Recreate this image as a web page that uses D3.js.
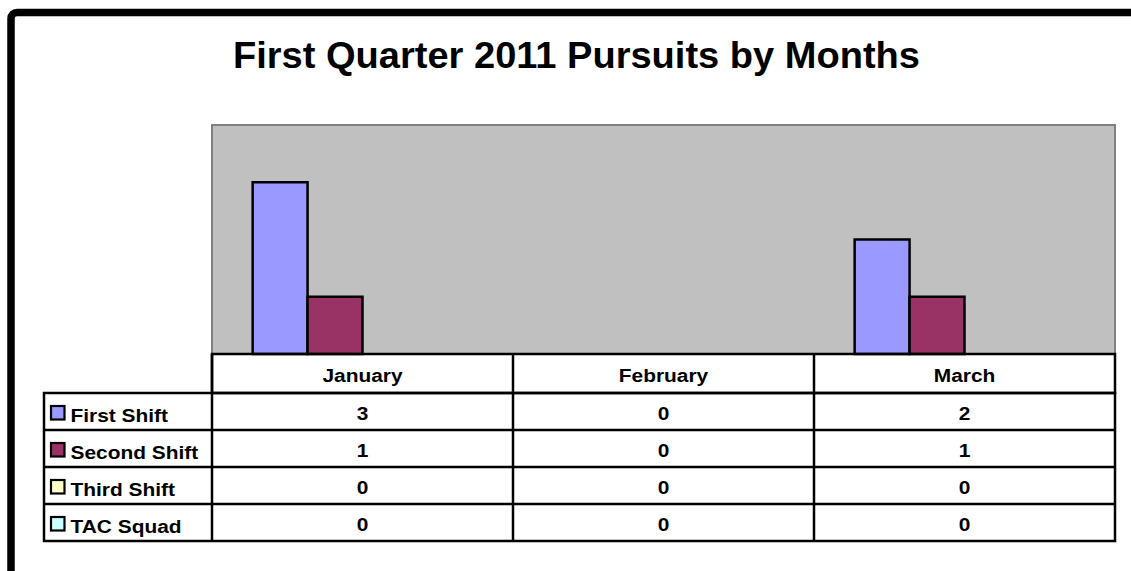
<!DOCTYPE html>
<html>
<head>
<meta charset="utf-8">
<script src="https://cdn.jsdelivr.net/npm/d3@7"></script>
<style>
  body { margin: 0; background: #fff; }
  svg { display: block; font-family: Arial, "Liberation Sans", sans-serif; font-weight: bold; }
</style>
</head>
<body>
<div id="chart"></div>
<script>
// Chart data
const months = ["January", "February", "March"];
const seriesNames = ["First Shift", "Second Shift", "Third Shift", "TAC Squad"];
const firstShift = [3, 0, 2];
const secondShift = [1, 0, 1];
const thirdShift = [0, 0, 0];
const tacSquad = [0, 0, 0];
const seriesColors = ["#9999FF", "#993366", "#FFFFCC", "#CCFFFF"];
const yTicks = [0, 1, 2, 3, 4];

const values = [firstShift, secondShift, thirdShift, tacSquad];

const width = 1131, height = 571;
const plot = {left: 212, right: 1115, top: 125, bottom: 354};
const headerH = 39, rowH = 37, legendLeft = 44;
const stretch = 1.1; // table text is a bit wider than plain Arial

const svg = d3.select("#chart").append("svg")
    .attr("width", width)
    .attr("height", height);

// outer frame (runs off the right/bottom edge)
svg.append("rect")
    .attr("x", 11).attr("y", 12.5)
    .attr("width", 1200).attr("height", 700)
    .attr("rx", 6)
    .attr("fill", "#fff")
    .attr("stroke", "#000")
    .attr("stroke-width", 7.5);

// title
svg.append("text")
    .attr("x", 233).attr("y", 67.5)
    .attr("font-size", 36.5)
    .attr("textLength", 687)
    .attr("lengthAdjust", "spacingAndGlyphs")
    .text("First Quarter 2011 Pursuits by Months");

const x = d3.scaleBand().domain(months).range([plot.left, plot.right]);
const xs = d3.scaleBand().domain(seriesNames).range([0, x.bandwidth()])
    .paddingInner(0).paddingOuter(0.74);
const y = d3.scaleLinear().domain([0, d3.max(yTicks)]).range([plot.bottom, plot.top]);

// plot area
svg.append("rect")
    .attr("x", plot.left).attr("y", plot.top)
    .attr("width", plot.right - plot.left).attr("height", plot.bottom - plot.top)
    .attr("fill", "#C0C0C0")
    .attr("stroke", "#808080")
    .attr("stroke-width", 2);

// bars (zero values draw nothing)
svg.append("g")
  .selectAll("g")
  .data(seriesNames)
  .join("g")
    .attr("fill", (d, i) => seriesColors[i])
  .selectAll("rect")
  .data((s, i) => values[i].map((v, j) => ({s, v, m: months[j]})).filter(d => d.v > 0))
  .join("rect")
    .attr("x", d => x(d.m) + xs(d.s))
    .attr("y", d => y(d.v))
    .attr("width", xs.bandwidth())
    .attr("height", d => y(0) - y(d.v))
    .attr("stroke", "#000")
    .attr("stroke-width", 2.5);

// data table
const table = svg.append("g")
    .attr("fill", "none")
    .attr("stroke", "#000")
    .attr("stroke-width", 2.5);

const tableBottom = plot.bottom + headerH + rowH * seriesNames.length;

table.append("rect")
    .attr("x", plot.left).attr("y", plot.bottom)
    .attr("width", plot.right - plot.left).attr("height", headerH);
table.append("rect")
    .attr("x", legendLeft).attr("y", plot.bottom + headerH)
    .attr("width", plot.right - legendLeft).attr("height", rowH * seriesNames.length);
table.selectAll("line.row")
  .data(seriesNames.slice(1))
  .join("line")
    .attr("x1", legendLeft).attr("x2", plot.right)
    .attr("y1", (d, i) => plot.bottom + headerH + rowH * (i + 1))
    .attr("y2", (d, i) => plot.bottom + headerH + rowH * (i + 1));
table.selectAll("line.col")
  .data(months)
  .join("line")
    .attr("x1", d => x(d)).attr("x2", d => x(d))
    .attr("y1", plot.bottom).attr("y2", tableBottom);

function stretchedText(g, tx, ty, anchor, size, str) {
  g.append("g")
    .attr("transform", `translate(${tx},${ty}) scale(${stretch},1)`)
    .append("text")
    .attr("text-anchor", anchor)
    .attr("font-size", size)
    .attr("fill", "#000")
    .text(str);
}

const labels = svg.append("g");

months.forEach(m => {
  stretchedText(labels, x(m) + x.bandwidth() / 2, plot.bottom + headerH / 2 + 8, "middle", 19, m);
});

seriesNames.forEach((s, i) => {
  const rowTop = plot.bottom + headerH + rowH * i;
  const cy = rowTop + rowH / 2;
  svg.append("rect")
      .attr("x", 51).attr("y", cy - 5.5)
      .attr("width", 13.5).attr("height", 13.5)
      .attr("fill", seriesColors[i])
      .attr("stroke", "#000")
      .attr("stroke-width", 2.2);
  stretchedText(labels, 70.5, cy + 10, "start", 19, s);
  months.forEach((m, j) => {
    stretchedText(labels, x(m) + x.bandwidth() / 2, cy + 8.5, "middle", 19, String(values[i][j]));
  });
});
</script>
</body>
</html>
